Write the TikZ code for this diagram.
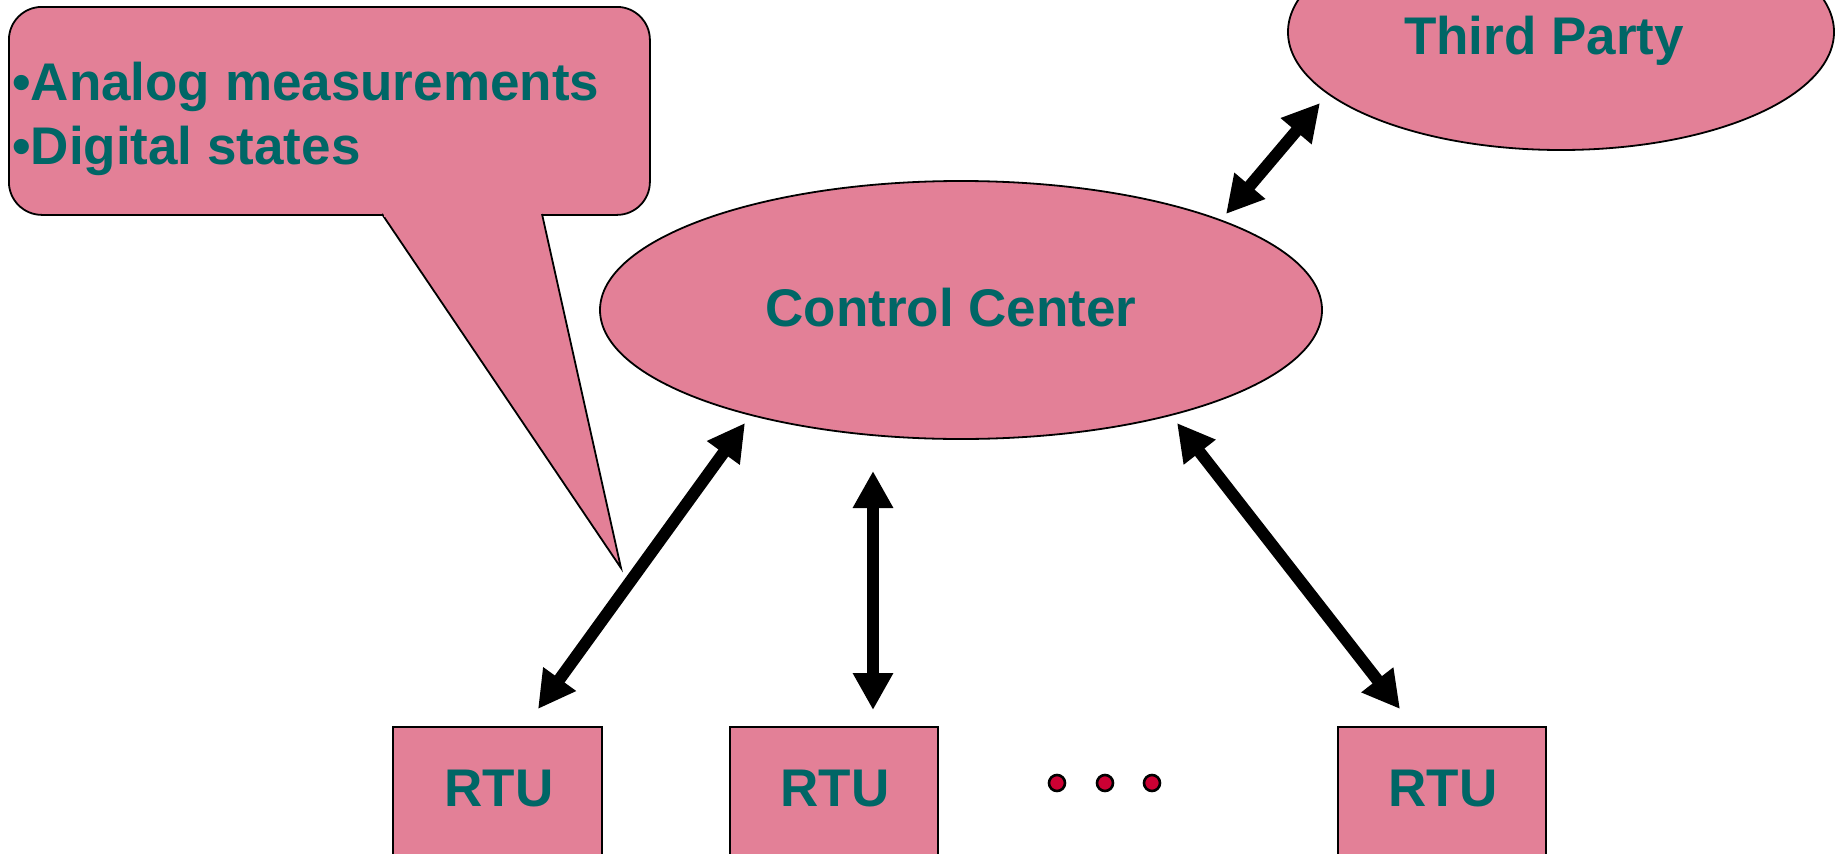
\documentclass[tikz,border=0pt]{standalone}
\usepackage{fontspec}
\setmainfont{Liberation Sans}
\usetikzlibrary{shapes.geometric,arrows.meta}
\definecolor{pinkf}{RGB}{227,128,151}
\definecolor{tealt}{RGB}{0,102,102}
\definecolor{dotc}{RGB}{204,0,51}
\begin{document}
\begin{tikzpicture}[x=1pt,y=-1pt,
  pinkshape/.style={draw=black, line width=1.8pt, fill=pinkf},
  lbl/.style={text=tealt, font=\fontsize{53}{64}\selectfont\bfseries, inner sep=0pt},
  link/.style={line width=12pt, {Triangle[length=37pt,width=38pt]}-{Triangle[length=37pt,width=38pt]}},
  reddot/.style={circle, draw=black, line width=2.6pt, fill=dotc, minimum size=16pt, inner sep=0pt}]
\useasboundingbox (0,0) rectangle (1837,854);
\clip (0,0) rectangle (1837,854);
% callout
\node[pinkshape, rounded corners=33pt, minimum width=641pt, minimum height=208pt, anchor=north west, inner sep=0pt] (callout) at (8,6) {};
\fill[pinkf] (382,214) -- (621,568) -- (542,214) -- cycle;
\draw[line width=1.8pt, line join=miter] (382,214) -- (621,568) -- (542,214);
\fill[pinkf] (383.5,211.5) rectangle (540.5,216.5);
\node[lbl, anchor=base west] (l1) at (12,100) {•Analog measurements};
\node[lbl, anchor=base west] (l2) at (12,164) {•Digital states};
% ellipses
\node[pinkshape, ellipse, minimum width=722pt, minimum height=258pt, inner sep=0pt] (cc) at (961,310) {};
\node[lbl, anchor=base] (cct) at (951,326) {Control Center};
\node[pinkshape, ellipse, minimum width=546pt, minimum height=236pt, inner sep=0pt] (tp) at (1561,32) {};
\node[lbl, anchor=base] (tpt) at (1544,54) {Third Party};
% RTUs
\node[pinkshape, minimum width=209pt, minimum height=180pt, anchor=north west, inner sep=0pt] (rtu1) at (392,726) {};
\node[pinkshape, minimum width=208pt, minimum height=180pt, anchor=north west, inner sep=0pt] (rtu2) at (729,726) {};
\node[pinkshape, minimum width=208pt, minimum height=180pt, anchor=north west, inner sep=0pt] (rtu3) at (1337,726) {};
\node[lbl, anchor=base] (r1) at (499,806) {RTU};
\node[lbl, anchor=base] (r2) at (835,806) {RTU};
\node[lbl, anchor=base] (r3) at (1443,806) {RTU};
% dots
\node[reddot] (d1) at (1057,783) {};
\node[reddot] (d2) at (1105,783) {};
\node[reddot] (d3) at (1152,783) {};
% arrows
\coordinate (a1t) at (745,423);
\coordinate (a1b) at (538,709);
\coordinate (a2t) at (873,471);
\coordinate (a2b) at (873,710);
\coordinate (a3t) at (1177,423);
\coordinate (a3b) at (1400,709);
\coordinate (a4b) at (1226,214);
\coordinate (a4t) at (1320,103);
\draw[link] (a1b) -- (a1t);
\draw[link] (a2b) -- (a2t);
\draw[link] (a3b) -- (a3t);
\draw[link] (a4b) -- (a4t);
\end{tikzpicture}
\end{document}
